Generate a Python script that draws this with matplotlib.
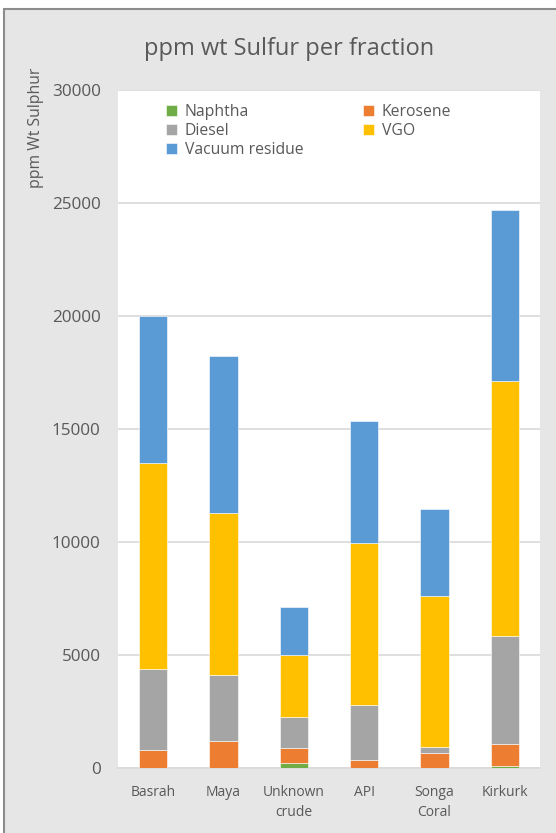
import matplotlib
matplotlib.use("Agg")
import matplotlib.pyplot as plt
import matplotlib.patches as mpatches
import numpy as np

plt.rcParams['font.family'] = ['Open Sans', 'DejaVu Sans']

# Datos del grafico
crudos = ["Basrah", "Maya", "Unknown\ncrude", "API", "Songa\nCoral", "Kirkurk"]
naphtha = [0, 0, 210, 0, 0, 70]
kerosene = [800, 1190, 690, 340, 650, 1010]
diesel = [3570, 2920, 1340, 2430, 280, 4760]
vgo = [9130, 7190, 2750, 7190, 6680, 11280]
vacio = [6500, 6920, 2140, 5410, 3850, 7570]

series = [("Naphtha", naphtha, "#70ad47"),
          ("Kerosene", kerosene, "#ed7d31"),
          ("Diesel", diesel, "#a5a5a5"),
          ("VGO", vgo, "#ffc000"),
          ("Vacuum residue", vacio, "#5b9bd5")]

texto = "#595959"

fig = plt.figure(figsize=(5.56, 8.33), dpi=100)
fig.patch.set_facecolor("white")
fondo = mpatches.Rectangle((4/556, -0.01), 1.0, 1 - 9/833 + 0.01,
                           transform=fig.transFigure, facecolor="#e6e6e6",
                           edgecolor="#8c8c8c", linewidth=1.5, zorder=-10)
fig.patches.append(fondo)

ax = fig.add_axes([118/556, 1 - 768/833, 422/556, (768 - 90)/833])
ax.set_facecolor("white")

x = np.arange(len(crudos))
base = np.zeros(len(crudos))
barras = {}
for nombre, valores, color in series:
    barras[nombre] = ax.bar(x, valores, 0.4, bottom=base, color=color,
                            edgecolor="white", linewidth=0.4, label=nombre, zorder=3)
    base = base + np.array(valores)

ax.set_ylim(0, 30000)
ax.set_xlim(-0.5, len(crudos) - 0.5)
ax.set_yticks(np.arange(0, 30001, 5000))
ax.set_xticks(x)
ax.set_xticklabels(crudos, color=texto, fontsize=10, linespacing=1.5)
ax.tick_params(axis="y", colors=texto, labelsize=12.3, length=0, pad=12.5)
ax.tick_params(axis="x", length=0, pad=12)
ax.grid(axis="y", color="#d9d9d9", linewidth=1.2, zorder=0)
for s in ["top", "right", "left"]:
    ax.spines[s].set_visible(False)
ax.spines["bottom"].set_color("#d9d9d9")
ax.spines["bottom"].set_linewidth(1.2)

orden = ["Naphtha", "Diesel", "Vacuum residue", "Kerosene", "VGO"]
ax.legend([barras[n] for n in orden], orden, ncol=2, loc="upper left",
          bbox_to_anchor=(0.08, 1.0), frameon=False, fontsize=11.3,
          labelcolor=texto, handlelength=0.7, handleheight=0.7,
          handletextpad=0.5, columnspacing=3.8, labelspacing=0.19)

fig.text(289.5/556, 1 - 49/833, "ppm wt Sulfur per fraction", ha="center", va="center",
         fontsize=17, color=texto)
fig.text(36/556, 1 - 128/833, "ppm Wt Sulphur", rotation=90, ha="center",
         va="center", fontsize=11.3, color=texto)

fig.savefig("out.png", dpi=100, facecolor=fig.get_facecolor())
